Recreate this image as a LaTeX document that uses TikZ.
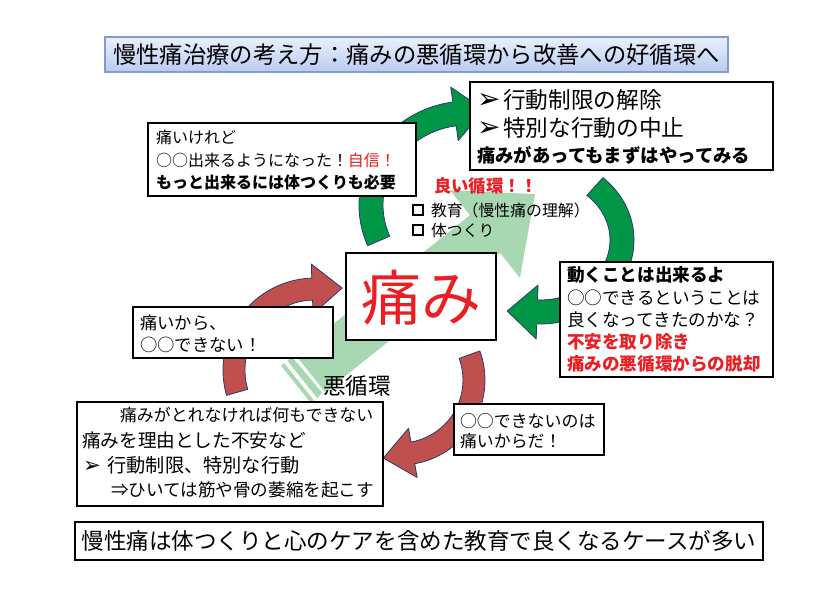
\documentclass[tikz,border=0pt]{standalone}
\usepackage{fontspec}
\setmainfont{Noto Sans CJK JP}
\newfontfamily\dejavu{DejaVu Sans}
\usetikzlibrary{calc}
\definecolor{gfill}{RGB}{0,150,70}
\definecolor{rfill}{RGB}{192,80,77}
\definecolor{aline}{RGB}{40,60,110}
\definecolor{lgreen}{RGB}{168,216,178}
\definecolor{tred}{RGB}{235,30,35}
\definecolor{ttop}{RGB}{234,240,252}
\definecolor{tbot}{RGB}{184,204,240}
\definecolor{tborder}{RGB}{130,155,200}
\newcommand{\headlen}{30}
% #1 style, #2 cx, #3 cy, #4 a, #5 b, #6 half width, #7 start, #8 end, #9 head extra
\newcommand{\carrow}[9]{%
 \pgfmathsetmacro\caAo{#4+#6}\pgfmathsetmacro\caBo{#5+#6}%
 \pgfmathsetmacro\caAi{#4-#6}\pgfmathsetmacro\caBi{#5-#6}%
 \pgfmathsetmacro\caAho{#4+#6+#9}\pgfmathsetmacro\caBho{#5+#6+#9}%
 \pgfmathsetmacro\caAhi{#4-#6-#9}\pgfmathsetmacro\caBhi{#5-#6-#9}%
 \pgfmathsetmacro\caTx{-#4*sin(#8)}\pgfmathsetmacro\caTy{#5*cos(#8)}%
 \pgfmathsetmacro\caTn{sqrt(\caTx*\caTx+\caTy*\caTy)}%
 \pgfmathsetmacro\caPx{#2+#4*cos(#8)+\headlen*\caTx/\caTn}%
 \pgfmathsetmacro\caPy{#3+#5*sin(#8)+\headlen*\caTy/\caTn}%
 \pgfmathsetmacro\caSx{#2+\caAo*cos(#7)}\pgfmathsetmacro\caSy{#3+\caBo*sin(#7)}%
 \pgfmathsetmacro\caHox{#2+\caAho*cos(#8)}\pgfmathsetmacro\caHoy{#3+\caBho*sin(#8)}%
 \pgfmathsetmacro\caHix{#2+\caAhi*cos(#8)}\pgfmathsetmacro\caHiy{#3+\caBhi*sin(#8)}%
 \pgfmathsetmacro\caIx{#2+\caAi*cos(#8)}\pgfmathsetmacro\caIy{#3+\caBi*sin(#8)}%
 \filldraw[#1] (\caSx,\caSy) arc[start angle=#7,end angle=#8,x radius=\caAo,y radius=\caBo]
   -- (\caHox,\caHoy) -- (\caPx,\caPy) -- (\caHix,\caHiy) -- (\caIx,\caIy)
   arc[start angle=#8,end angle=#7,x radius=\caAi,y radius=\caBi] -- cycle;}
\newcommand{\bul}[1]{{\dejavu\bfseries\fontsize{#1}{#1}\selectfont ➢}}
\tikzset{
 box/.style={draw=black, line width=1.1pt, fill=white, inner sep=0pt},
 txt/.style={anchor=west, inner sep=0pt, outer sep=0pt},
 ctxt/.style={anchor=center, inner sep=0pt, outer sep=0pt},
 garrow/.style={fill=gfill, draw=aline, line width=0.6pt, line join=round},
 rarrow/.style={fill=rfill, draw=aline, line width=0.6pt, line join=round},
 bigarrow/.style={fill=lgreen, draw=none},
 chkbox/.style={draw=black, line width=1.6pt, minimum size=7pt, inner sep=0pt},
}
\begin{document}
\begin{tikzpicture}[x=0.75pt,y=-0.75pt]
\useasboundingbox (0,0) rectangle (840,594);
\fill[white] (0,0) rectangle (840,594);

% big light green striped arrow
\coordinate (tip) at (535,194.1);
\coordinate (wl) at (450.1,190.2);
\coordinate (wr) at (519.9,277.8);
\coordinate (sl) at (470,215.2);
\coordinate (sr) at (500,252.8);
\coordinate (btl) at (295.1,354.4);
\coordinate (btr) at (325.1,392);
\fill[bigarrow] (btl) -- (sl) -- (wl) -- (tip) -- (wr) -- (sr) -- (btr) -- cycle;
\fill[bigarrow] (281,365.6) -- (284.1,363.1) -- (314.1,400.7) -- (311,403.2) -- cycle;
\fill[bigarrow] (287.3,360.6) -- (292,356.9) -- (322,392.5) -- (317.3,398.2) -- cycle;

% curved arrows
\carrow{garrow}{468}{205}{97}{92}{12}{157}{262}{15}
\carrow{garrow}{540}{240}{82}{72}{12}{-48}{92}{15}
\carrow{rarrow}{315}{370}{81}{81}{11}{164}{268}{14}
\carrow{rarrow}{400}{380}{74}{74}{11}{-20}{80}{14}

% title
\node[draw=tborder, line width=0.8pt, top color=ttop, bottom color=tbot, minimum width=467.25pt, minimum height=26.25pt, inner sep=0pt] (title) at (416.5,54.5) {};
\node[ctxt, font=\fontsize{17.5}{20}\selectfont] (titletext) at (416.5,55) {慢性痛治療の考え方：痛みの悪循環から改善への好循環へ};

% top-left box
\node[box, minimum width=201pt, minimum height=54.75pt] (tlbox) at (282,159.5) {};
\node[txt, font=\fontsize{12}{14}\selectfont] (tl1) at (156,137) {痛いけれど};
\node[txt, font=\fontsize{12}{14}\selectfont] (tl2) at (156,160) {○○出来るようになった！\textcolor{tred}{自信！}};
\node[txt, font=\fontsize{12}{14}\selectfont\bfseries] (tl3) at (156,182) {もっと出来るには体つくりも必要};

% top-right box
\node[box, minimum width=227.25pt, minimum height=66pt] (trbox) at (621.5,126) {};
\node[txt, font=\fontsize{17}{20}\selectfont] (tr1) at (477,100) {\bul{21}\hspace{2pt}行動制限の解除};
\node[txt, font=\fontsize{17}{20}\selectfont] (tr2) at (477,128) {\bul{21}\hspace{2pt}特別な行動の中止};
\node[txt, font=\fontsize{13.8}{16}\selectfont\bfseries] (tr3) at (477,155) {痛みがあってもまずはやってみる};

% good cycle text
\node[txt, font=\fontsize{13}{15}\selectfont\bfseries, text=tred] (good) at (434,186) {良い循環！！};
\node[chkbox] (sq1) at (418,210) {};
\node[txt, font=\fontsize{11.9}{14}\selectfont] (good1) at (431,210) {教育（慢性痛の理解）};
\node[chkbox] (sq2) at (418,230) {};
\node[txt, font=\fontsize{11.9}{14}\selectfont] (good2) at (431,230) {体つくり};

% center box
\node[box, minimum width=112.5pt, minimum height=65.25pt] (cbox) at (421,296.5) {};
\node[ctxt, font=\fontsize{45}{50}\selectfont, text=tred] (itami) at (421,298) {痛み};

% right box
\node[box, minimum width=159.75pt, minimum height=86.25pt] (rbox) at (666.5,319.5) {};
\node[txt, font=\fontsize{13.2}{15}\selectfont\bfseries] (r1) at (567,275) {動くことは出来るよ};
\node[txt, font=\fontsize{13.2}{15}\selectfont] (r2) at (567,298) {○○できるということは};
\node[txt, font=\fontsize{13.2}{15}\selectfont] (r3) at (567,320) {良くなってきたのかな？};
\node[txt, font=\fontsize{13.2}{15}\selectfont\bfseries, text=tred] (r4) at (567,342) {不安を取り除き};
\node[txt, font=\fontsize{13.2}{15}\selectfont\bfseries, text=tred] (r5) at (567,364) {痛みの悪循環からの脱却};

% left box
\node[box, minimum width=150pt, minimum height=38.25pt] (lbox) at (233,332.5) {};
\node[txt, font=\fontsize{13}{15}\selectfont] (l1) at (140,323) {痛いから、};
\node[txt, font=\fontsize{13}{15}\selectfont] (l2) at (140,345) {○○できない！};

% bad cycle label
\node[ctxt, font=\fontsize{17}{20}\selectfont] (bad) at (357,386) {悪循環};

% bottom-left box
\node[box, minimum width=229.5pt, minimum height=78pt] (blbox) at (230,454) {};
\node[txt, font=\fontsize{12.7}{15}\selectfont] (bl1) at (120,415) {痛みがとれなければ何もできない};
\node[txt, font=\fontsize{14}{16}\selectfont] (bl2) at (82,440) {痛みを理由とした不安など};
\node[txt, font=\fontsize{14.4}{16}\selectfont] (bl3) at (83,465) {\bul{16}\hspace{5pt}行動制限、特別な行動};
\node[txt, font=\fontsize{13.2}{15}\selectfont] (bl4) at (111,490) {⇒ひいては筋や骨の萎縮を起こす};

% bottom-middle box
\node[box, minimum width=112.5pt, minimum height=38.25pt] (bmbox) at (529,429.5) {};
\node[txt, font=\fontsize{12.7}{15}\selectfont] (bm1) at (460,421) {○○できないのは};
\node[txt, font=\fontsize{12.7}{15}\selectfont] (bm2) at (460,441) {痛いからだ！};

% bottom box
\node[box, minimum width=516pt, minimum height=28.5pt] (bbox) at (419,541) {};
\node[ctxt, font=\fontsize{16.9}{20}\selectfont] (btext) at (419,541) {慢性痛は体つくりと心のケアを含めた教育で良くなるケースが多い};
\end{tikzpicture}
\end{document}
